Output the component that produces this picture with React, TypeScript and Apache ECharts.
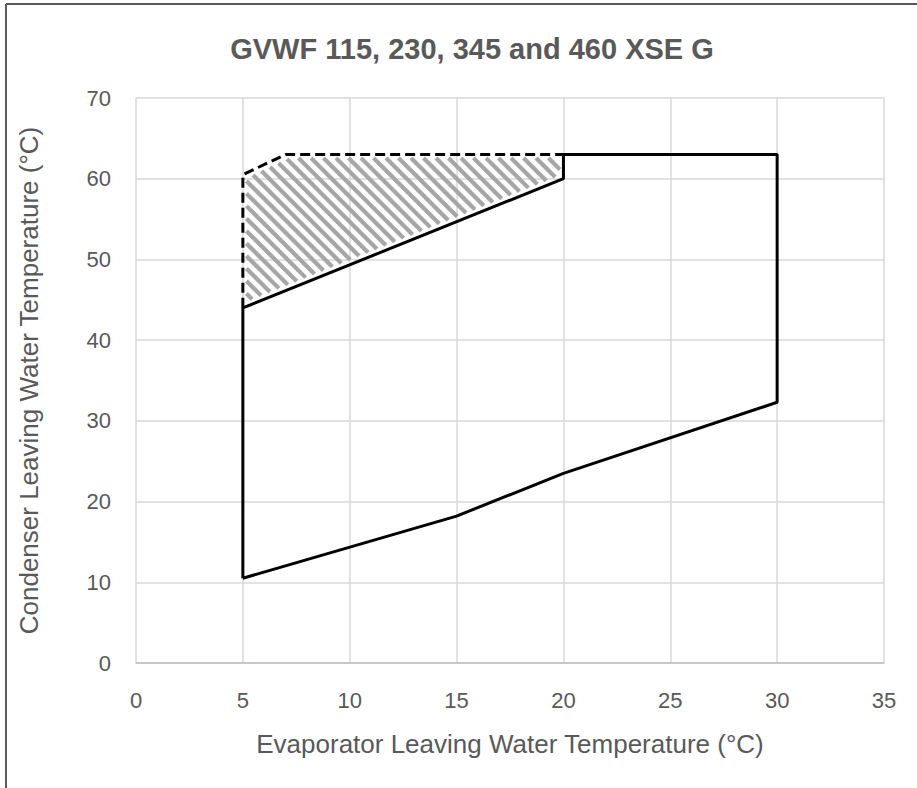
import React, { useEffect, useRef } from "react";
import * as echarts from "echarts";

const titleText = "GVWF 115, 230, 345 and 460 XSE G";
const xAxisName = "Evaporator Leaving Water Temperature (°C)";
const yAxisName = "Condenser Leaving Water Temperature (°C)";

const xMin = 0;
const xMax = 35;
const xStep = 5;
const yMin = 0;
const yMax = 70;
const yStep = 10;

// Solid operating envelope (closed outline)
const envelopeX = [5, 15, 20, 30, 30, 20, 20, 5, 5];
const envelopeY = [10.5, 18.2, 23.5, 32.3, 63, 63, 60, 44, 10.5];

// Dashed extended-range boundary
const extendedX = [5, 5, 7, 20];
const extendedY = [44, 60.5, 63, 63];

// Hatched extended region polygon
const hatchX = [5, 5, 7, 20, 20];
const hatchY = [44, 60.5, 63, 63, 60];

const FONT = "Liberation Sans, Arial, sans-serif";

export default function App() {
  const ref = useRef<HTMLDivElement>(null);

  useEffect(() => {
    if (!ref.current) return;
    const chart = echarts.init(ref.current, null, { renderer: "svg" });

    const envelope = envelopeX.map((x, i) => [x, envelopeY[i]]);
    const extended = extendedX.map((x, i) => [x, extendedY[i]]);
    const hatch = hatchX.map((x, i) => [x, hatchY[i]]);

    const renderHatch = (_params: any, api: any) => {
      const pts: number[][] = hatch.map((p) => api.coord(p));
      const period = 12.5;
      const inset = 5;
      let minC = Infinity;
      let maxC = -Infinity;
      pts.forEach(([x, y]) => {
        const c = x - y;
        if (c < minC) minC = c;
        if (c > maxC) maxC = c;
      });
      const children: any[] = [];
      const start = Math.ceil(minC / period) * period + 3;
      for (let c = start; c <= maxC; c += period) {
        const hits: number[][] = [];
        for (let i = 0; i < pts.length; i++) {
          const a = pts[i];
          const b = pts[(i + 1) % pts.length];
          const fa = a[0] - a[1] - c;
          const fb = b[0] - b[1] - c;
          if ((fa <= 0 && fb >= 0) || (fa >= 0 && fb <= 0)) {
            if (fa === fb) continue;
            const t = fa / (fa - fb);
            hits.push([a[0] + (b[0] - a[0]) * t, a[1] + (b[1] - a[1]) * t]);
          }
        }
        if (hits.length >= 2) {
          hits.sort((p, q) => p[1] - q[1]);
          const p1 = hits[0];
          const p2 = hits[hits.length - 1];
          const dx = p2[0] - p1[0];
          const dy = p2[1] - p1[1];
          const len = Math.sqrt(dx * dx + dy * dy);
          if (len <= inset * 2 + 1) continue;
          const ux = dx / len;
          const uy = dy / len;
          children.push({
            type: "line",
            shape: {
              x1: p1[0] + ux * inset,
              y1: p1[1] + uy * inset,
              x2: p2[0] - ux * inset,
              y2: p2[1] - uy * inset,
            },
            style: { stroke: "#a6a6a6", lineWidth: 4.2 },
          });
        }
      }
      return { type: "group", children };
    };

    chart.setOption({
      animation: false,
      backgroundColor: "#ffffff",
      title: {
        text: titleText,
        left: 467,
        top: 29,
        textAlign: "center",
        textStyle: {
          fontFamily: FONT,
          fontSize: 29,
          fontWeight: "bold",
          color: "#595959",
        },
      },
      graphic: [
        {
          type: "line",
          shape: { x1: 6, y1: 4, x2: 917, y2: 4 },
          style: { stroke: "#595959", lineWidth: 2 },
        },
        {
          type: "line",
          shape: { x1: 6, y1: 4, x2: 6, y2: 788 },
          style: { stroke: "#595959", lineWidth: 2 },
        },
      ],
      grid: { left: 136, right: 33, top: 98, bottom: 125 },
      xAxis: {
        type: "value",
        min: xMin,
        max: xMax,
        interval: xStep,
        name: xAxisName,
        nameLocation: "middle",
        nameGap: 68,
        nameTextStyle: { fontFamily: FONT, fontSize: 26, color: "#595959" },
        axisLine: { show: true, lineStyle: { color: "#bfbfbf", width: 1.5 } },
        axisTick: { show: false },
        axisLabel: { fontFamily: FONT, fontSize: 22, color: "#595959", margin: 26 },
        splitLine: { show: true, lineStyle: { color: "#d9d9d9", width: 1.5 } },
      },
      yAxis: {
        type: "value",
        min: yMin,
        max: yMax,
        interval: yStep,
        name: yAxisName,
        nameLocation: "middle",
        nameGap: 94,
        nameTextStyle: { fontFamily: FONT, fontSize: 26, color: "#595959" },
        axisLine: { show: false },
        axisTick: { show: false },
        axisLabel: { fontFamily: FONT, fontSize: 22, color: "#595959", margin: 25 },
        splitLine: { show: true, lineStyle: { color: "#d9d9d9", width: 1.5 } },
      },
      series: [
        {
          type: "custom",
          renderItem: renderHatch,
          data: [hatch[0]],
          clip: false,
          silent: true,
          z: 1,
        },
        {
          type: "line",
          data: extended,
          symbol: "none",
          lineStyle: { color: "#000000", width: 3, type: [10, 5] },
          z: 2,
        },
        {
          type: "line",
          data: envelope,
          symbol: "none",
          lineStyle: { color: "#000000", width: 3 },
          z: 3,
        },
      ],
    });

    return () => chart.dispose();
  }, []);

  return (
    <div
      ref={ref}
      style={{ position: "absolute", left: 0, top: 0, width: 917, height: 788 }}
    />
  );
}
